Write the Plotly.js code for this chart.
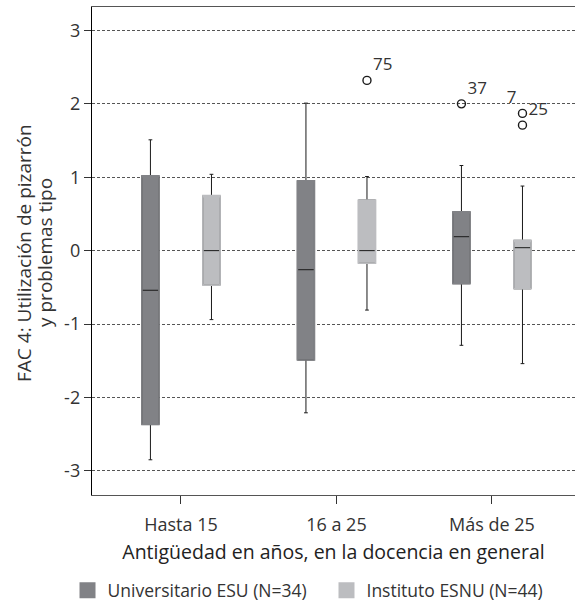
<!DOCTYPE html>
<html>
<head>
<meta charset="utf-8">
<script src="https://cdn.plot.ly/plotly-3.0.1.min.js"></script>
<style>html,body{margin:0;padding:0;background:#fff;}#chart{width:575px;height:603px;}</style>
</head>
<body>
<div id="chart"></div>
<script>
// Categories
const categories = ['Hasta 15', '16 a 25', 'Más de 25'];

// Universitario ESU (N=34)
const esuName = 'Universitario ESU (N=34)';
const esuLower  = [-2.85, -2.21, -1.29];
const esuQ1     = [-2.37, -1.49, -0.45];
const esuMedian = [-0.54, -0.26, 0.19];
const esuQ3     = [1.02, 0.95, 0.53];
const esuUpper  = [1.51, 2.01, 1.16];
const esuOutCat = ['Más de 25'];
const esuOutVal = [2.00];
const esuOutLbl = ['37'];

// Instituto ESNU (N=44)
const isnuName = 'Instituto ESNU (N=44)';
const isnuLower  = [-0.94, -0.81, -1.54];
const isnuQ1     = [-0.47, -0.17, -0.52];
const isnuMedian = [0.00, 0.00, 0.04];
const isnuQ3     = [0.75, 0.69, 0.14];
const isnuUpper  = [1.04, 1.01, 0.88];
const isnuOutCat = ['16 a 25', 'Más de 25', 'Más de 25'];
const isnuOutVal = [2.32, 1.87, 1.71];
const isnuOutLbl = ['75', '7', '25'];
const isnuOutPos = ['top right', 'top left', 'top right'];

// Axis ticks
const yTickVals = [-3, -2, -1, 0, 1, 2, 3];
const yTickText = ['-3', '-2', '-1', '0', '1', '2', '3'];

const esuColor = '#818286';
const isnuColor = '#bcbdc0';
const ink = '#1a1a1a';

function boxPair(name, color, grp, lower, q1, med, q3, upper) {
  const base = {
    type: 'box', x: categories, q1: q1, median: med, q3: q3,
    lowerfence: lower, upperfence: upper,
    offsetgroup: grp, alignmentgroup: 'g',
    showlegend: false, hoverinfo: 'skip', boxpoints: false
  };
  // whiskers, caps and median in dark ink
  const a = Object.assign({}, base, {
    name: name, fillcolor: color, line: {color: ink, width: 1}, whiskerwidth: 0.22
  });
  // cover the box outline with its own fill colour
  const b = Object.assign({}, base, {
    name: name + ' ', median: q3, lowerfence: q1, upperfence: q3,
    fillcolor: 'rgba(0,0,0,0)', line: {color: color, width: 1.6}, whiskerwidth: 0
  });
  return [a, b];
}

const traces = [
  ...boxPair(esuName, esuColor, 'esu', esuLower, esuQ1, esuMedian, esuQ3, esuUpper),
  ...boxPair(isnuName, isnuColor, 'isnu', isnuLower, isnuQ1, isnuMedian, isnuQ3, isnuUpper),
  {
    type: 'scatter', mode: 'markers+text', x: esuOutCat, y: esuOutVal, text: esuOutLbl,
    textposition: 'top right', offsetgroup: 'esu', alignmentgroup: 'g',
    marker: {symbol: 'circle-open', size: 8, color: ink, line: {width: 1.4, color: ink}},
    textfont: {size: 17, color: '#333'}, showlegend: false, hoverinfo: 'skip', cliponaxis: false
  },
  {
    type: 'scatter', mode: 'markers+text', x: isnuOutCat, y: isnuOutVal, text: isnuOutLbl,
    textposition: isnuOutPos, offsetgroup: 'isnu', alignmentgroup: 'g',
    marker: {symbol: 'circle-open', size: 8, color: ink, line: {width: 1.4, color: ink}},
    textfont: {size: 17, color: '#333'}, showlegend: false, hoverinfo: 'skip', cliponaxis: false
  },
  // legend entries
  {type: 'scatter', mode: 'markers', x: [null], y: [null], name: esuName, legend: 'legend',
   marker: {symbol: 'square', size: 16, color: esuColor, line: {width: 0}}},
  {type: 'scatter', mode: 'markers', x: [null], y: [null], name: isnuName, legend: 'legend2',
   marker: {symbol: 'square', size: 16, color: isnuColor, line: {width: 0}}}
];

const legendCommon = {
  orientation: 'h', xanchor: 'left', yref: 'container', y: 0.021, yanchor: 'middle',
  font: {size: 17.5, color: '#333'}, itemclick: false, bgcolor: 'rgba(0,0,0,0)'
};

const layout = {
  width: 575, height: 603,
  margin: {l: 92, r: 0, t: 7, b: 108},
  paper_bgcolor: '#fff', plot_bgcolor: '#fff',
  font: {family: '"Open Sans", sans-serif', color: '#333', size: 17},
  boxmode: 'group', boxgap: 0.215, boxgroupgap: 0.72,
  scattermode: 'group', scattergap: 0.215,
  xaxis: {
    type: 'category', categoryorder: 'array', categoryarray: categories,
    range: [-0.572, 2.534], showgrid: false, zeroline: false,
    showline: true, linecolor: '#555', linewidth: 1.2, mirror: true,
    ticks: 'outside', ticklen: 8, tickcolor: '#333', tickwidth: 1,
    ticklabelstandoff: 5,
    tickfont: {size: 18, color: '#333'},
    title: {text: 'Antigüedad en años, en la docencia en general', font: {size: 19.5, color: '#222'}, standoff: 10}
  },
  yaxis: {
    range: [-3.33, 3.32], tickmode: 'array', tickvals: yTickVals, ticktext: yTickText,
    showgrid: true, gridcolor: '#555', gridwidth: 1, griddash: '3px,2px',
    zeroline: false, showline: true, linecolor: '#000', linewidth: 1.2,
    ticks: 'outside', ticklen: 7, tickcolor: '#333', tickwidth: 1,
    tickfont: {size: 18, color: '#333'}
  },
  annotations: [
    {text: 'FAC 4: Utilización de pizarrón', xref: 'paper', yref: 'paper', x: -0.1408, y: 0.496,
     xanchor: 'center', yanchor: 'middle',
     textangle: -90, showarrow: false, font: {size: 19, color: '#333'}},
    {text: 'y problemas tipo', xref: 'paper', yref: 'paper', x: -0.0973, y: 0.496,
     xanchor: 'center', yanchor: 'middle',
     textangle: -90, showarrow: false, font: {size: 19, color: '#333'}}
  ],
  showlegend: true,
  legend: Object.assign({}, legendCommon, {x: -0.0507}),
  legend2: Object.assign({}, legendCommon, {x: 0.4855})
};

Plotly.newPlot('chart', traces, layout, {displayModeBar: false, staticPlot: true});
</script>
</body>
</html>
